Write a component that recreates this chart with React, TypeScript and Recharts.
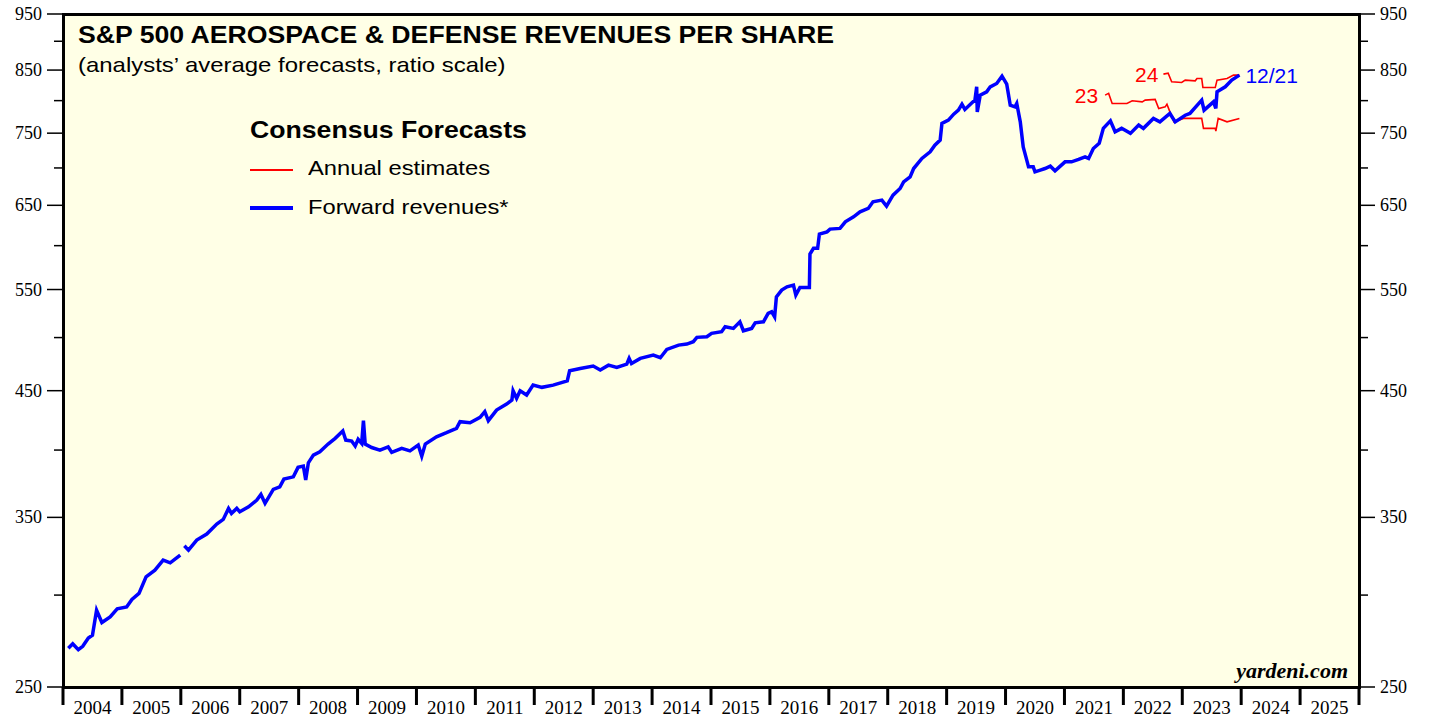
import React from 'react';
import { LineChart, Line, XAxis, YAxis, ReferenceDot } from 'recharts';

// forward revenues per share (weekly), null = gap in the series
const fwdDates = [
  2004.09, 2004.165, 2004.26, 2004.335, 2004.43, 2004.5, 2004.57, 2004.66, 2004.8, 2004.92,
  2005.08, 2005.17, 2005.29, 2005.41, 2005.56, 2005.7, 2005.82, 2005.99, 2006.03, 2006.06,
  2006.13, 2006.27, 2006.44, 2006.61, 2006.72, 2006.81, 2006.86, 2006.95, 2007.0, 2007.15,
  2007.29, 2007.36, 2007.43, 2007.57, 2007.68, 2007.75, 2007.91, 2007.99, 2008.08, 2008.12,
  2008.165, 2008.25, 2008.36, 2008.5, 2008.62, 2008.75, 2008.8, 2008.9, 2008.96, 2009.01,
  2009.07, 2009.1, 2009.13, 2009.24, 2009.38, 2009.52, 2009.58, 2009.75, 2009.89, 2010.03,
  2010.09, 2010.15, 2010.34, 2010.51, 2010.68, 2010.74, 2010.91, 2011.08, 2011.16, 2011.22,
  2011.36, 2011.53, 2011.62, 2011.64, 2011.7, 2011.76, 2011.87, 2011.98, 2012.13, 2012.32,
  2012.56, 2012.6, 2012.78, 2013.0, 2013.12, 2013.26, 2013.4, 2013.57, 2013.61, 2013.65,
  2013.8, 2014.02, 2014.14, 2014.25, 2014.45, 2014.59, 2014.7, 2014.76, 2014.93, 2015.01,
  2015.18, 2015.24, 2015.38, 2015.49, 2015.55, 2015.69, 2015.75, 2015.89, 2015.97, 2016.03,
  2016.08, 2016.11, 2016.2, 2016.29, 2016.4, 2016.44, 2016.51, 2016.67, 2016.68, 2016.74,
  2016.81, 2016.84, 2016.97, 2017.02, 2017.19, 2017.28, 2017.42, 2017.53, 2017.67, 2017.75,
  2017.9, 2017.98, 2018.09, 2018.21, 2018.27, 2018.38, 2018.44, 2018.58, 2018.72, 2018.8,
  2018.89, 2018.92, 2019.03, 2019.12, 2019.2, 2019.26, 2019.31, 2019.43, 2019.48, 2019.51,
  2019.52, 2019.57, 2019.68, 2019.74, 2019.85, 2019.94, 2020.02, 2020.08, 2020.16, 2020.19,
  2020.25, 2020.3, 2020.36, 2020.39, 2020.47, 2020.5, 2020.59, 2020.67, 2020.76, 2020.84,
  2021.01, 2021.12, 2021.24, 2021.35, 2021.41, 2021.49, 2021.59, 2021.66, 2021.78, 2021.86,
  2021.97, 2022.12, 2022.26, 2022.34, 2022.51, 2022.62, 2022.79, 2022.88, 2023.05, 2023.13,
  2023.33, 2023.37, 2023.53, 2023.57, 2023.59, 2023.73, 2023.84, 2023.97,
];
const fwdValues = [
  270.0, 272.4, 269.2, 271.0, 275.5, 277.0, 291.1, 284.1, 287.3, 291.9,
  293.0, 297.4, 301.0, 311.1, 315.2, 321.6, 319.8, 324.8, null, 330.8,
  328.0, 334.6, 338.6, 345.4, 348.6, 356.3, 352.8, 356.3, 353.9, 357.4,
  362.2, 366.3, 359.9, 370.0, 371.9, 377.6, 379.3, 386.5, 387.5, 376.9,
  390.0, 396.0, 398.6, 404.8, 409.4, 415.4, 408.0, 407.2, 403.2, 408.6,
  405.3, 424.0, 404.8, 402.0, 400.0, 402.6, 398.2, 401.4, 399.4, 404.0,
  395.2, 404.8, 410.7, 414.0, 417.6, 423.2, 422.3, 426.8, 431.6, 424.0,
  433.0, 438.2, 441.7, 449.9, 443.2, 449.9, 446.1, 455.0, 453.0, 455.0,
  458.9, 468.1, 470.3, 472.5, 468.8, 473.4, 471.3, 474.4, 479.8, 475.0,
  479.8, 483.0, 480.4, 488.4, 492.6, 493.6, 495.9, 500.2, 500.8, 504.2,
  505.8, 510.9, 509.2, 515.9, 506.8, 509.2, 514.9, 515.9, 524.6, 526.2,
  521.0, 542.1, 549.4, 553.0, 554.8, 544.0, 552.3, 552.3, 590.1, 596.8,
  596.8, 613.9, 616.7, 620.0, 620.9, 629.1, 635.3, 641.6, 646.0, 654.5,
  656.7, 648.9, 663.2, 672.1, 681.0, 687.7, 699.2, 713.3, 722.7, 732.4,
  739.7, 764.6, 769.6, 778.8, 785.0, 794.4, 786.1, 796.5, 800.8, 822.2,
  782.4, 808.8, 814.1, 822.2, 827.7, 839.8, 826.6, 792.8, 790.2, 795.5,
  767.0, 729.9, 710.9, 701.5, 701.5, 694.6, 697.0, 699.2, 702.5, 696.0,
  708.5, 708.5, 711.9, 715.6, 713.3, 727.6, 735.1, 757.2, 768.6, 752.1,
  757.2, 749.7, 762.2, 757.2, 772.3, 767.0, 779.9, 767.0, 777.2, 779.9,
  800.8, 785.0, 798.1, 787.7, 814.1, 822.2, 833.2, 841.5,
];

// 2023 annual estimates
const est23Dates = [
  2021.69, 2021.75, 2021.81, 2022.06, 2022.15, 2022.32, 2022.37, 2022.54, 2022.6, 2022.71,
  2022.74, 2022.79, 2022.86, 2023.02, 2023.33, 2023.36, 2023.56, 2023.57, 2023.61, 2023.76,
  2023.97,
];
const est23Values = [
  808.8, 811.6, 795.5, 795.5, 799.7, 798.1, 800.8, 802.0, 787.7, 790.2,
  794.4, 782.4, 767.0, 772.3, 772.3, 757.2, 757.2, 753.1, 772.3, 767.0,
  772.3,
];

// 2024 annual estimates
const est24Dates = [
  2022.68, 2022.76, 2022.82, 2022.99, 2023.05, 2023.22, 2023.25, 2023.33, 2023.35, 2023.56,
  2023.59, 2023.76, 2023.87, 2023.97,
];
const est24Values = [
  843.2, 844.8, 830.4, 829.4, 833.2, 832.1, 836.0, 836.0, 821.2, 821.2,
  833.2, 836.0, 841.5, 841.5,
];

const yearTicks = [
  2004, 2005, 2006, 2007, 2008, 2009, 2010, 2011, 2012, 2013, 2014,
  2015, 2016, 2017, 2018, 2019, 2020, 2021, 2022, 2023, 2024, 2025, 2026,
];
const yTicks = [250, 300, 350, 400, 450, 500, 550, 600, 650, 700, 750, 800, 850, 900, 950];
const yLabels = [250, 350, 450, 550, 650, 750, 850, 950];

const fwdData = fwdDates.map((t, i) => ({ t, v: fwdValues[i] }));
const est23Data = est23Dates.map((t, i) => ({ t, v: est23Values[i] }));
const est24Data = est24Dates.map((t, i) => ({ t, v: est24Values[i] }));

const W = 1429;
const H = 717;
const PL = 63;
const PR = 1359;
const PT = 14;
const PB = 687;
const halfYear = (PR - PL) / (yearTicks.length - 1) / 2;
const serif = '"Liberation Serif", "Times New Roman", serif';
const sans = '"Liberation Sans", Arial, sans-serif';

const LeftTick = (props: any) => {
  const { x, y, payload } = props;
  const major = yLabels.includes(payload.value);
  return (
    <g>
      <line x1={x - (major ? 16 : 9)} x2={x} y1={y} y2={y} stroke="#000" strokeWidth={1.5} />
      {major && (
        <text x={x - 21} y={y} dy={6} textAnchor="end" fontFamily={serif} fontSize={18} fill="#000">
          {payload.value}
        </text>
      )}
    </g>
  );
};

const RightTick = (props: any) => {
  const { x, y, payload } = props;
  const major = yLabels.includes(payload.value);
  return (
    <g>
      <line x1={x} x2={x + (major ? 16 : 9)} y1={y} y2={y} stroke="#000" strokeWidth={1.5} />
      {major && (
        <text x={x + 21} y={y} dy={6} textAnchor="start" fontFamily={serif} fontSize={18} fill="#000">
          {payload.value}
        </text>
      )}
    </g>
  );
};

const YearTick = (props: any) => {
  const { x, y, payload } = props;
  const last = payload.value === yearTicks[yearTicks.length - 1];
  return (
    <g>
      <line x1={x} x2={x} y1={y} y2={y + 18} stroke="#000" strokeWidth={3} />
      {!last && (
        <text x={x + halfYear} y={y + 27} textAnchor="middle" fontFamily={serif} fontSize={19} fill="#000">
          {payload.value}
        </text>
      )}
    </g>
  );
};

const stretch = (k: number): React.CSSProperties => ({ transform: `scaleX(${k})`, transformOrigin: 'left top' });

export default function App() {
  return (
    <div style={{ position: 'absolute', left: 0, top: 0, width: W, height: H, background: '#fff', overflow: 'hidden' }}>
      <div
        style={{
          position: 'absolute',
          left: PL - 1.5,
          top: PT - 1.5,
          width: PR - PL + 3,
          height: PB - PT + 3,
          boxSizing: 'border-box',
          border: '3px solid #000',
          background: '#ffffe6',
        }}
      />
      <div style={{ position: 'absolute', left: 0, top: 0 }}>
        <LineChart width={W} height={H} data={fwdData} margin={{ top: PT, right: 0, bottom: 0, left: 0 }}>
          <XAxis
            dataKey="t"
            type="number"
            domain={[2004, 2026]}
            ticks={yearTicks}
            interval={0}
            height={H - PB}
            tickSize={0}
            tickMargin={0}
            axisLine={false}
            tickLine={false}
            tick={<YearTick />}
            allowDataOverflow
          />
          <YAxis
            yAxisId="left"
            scale="log"
            domain={[250, 950]}
            ticks={yTicks}
            interval={0}
            width={PL}
            tickSize={0}
            tickMargin={0}
            axisLine={false}
            tickLine={false}
            tick={<LeftTick />}
            allowDataOverflow
          />
          <YAxis
            yAxisId="right"
            orientation="right"
            scale="log"
            domain={[250, 950]}
            ticks={yTicks}
            interval={0}
            width={W - PR}
            tickSize={0}
            tickMargin={0}
            axisLine={false}
            tickLine={false}
            tick={<RightTick />}
            allowDataOverflow
          />
          <Line yAxisId="left" data={est23Data} dataKey="v" stroke="#ff0000" strokeWidth={1.6} dot={false} isAnimationActive={false} />
          <Line yAxisId="left" data={est24Data} dataKey="v" stroke="#ff0000" strokeWidth={1.6} dot={false} isAnimationActive={false} />
          <Line yAxisId="left" data={fwdData} dataKey="v" stroke="#0000ff" strokeWidth={3.5} dot={false} isAnimationActive={false} />
          <ReferenceDot
            yAxisId="left"
            x={est23Dates[0]}
            y={est23Values[0]}
            r={0}
            label={{ value: '23', position: 'left', offset: 7, fill: '#ff0000', fontSize: 21, fontFamily: sans }}
          />
          <ReferenceDot
            yAxisId="left"
            x={est24Dates[0]}
            y={est24Values[0]}
            r={0}
            label={{ value: '24', position: 'left', offset: 5, fill: '#ff0000', fontSize: 21, fontFamily: sans }}
          />
          <ReferenceDot
            yAxisId="left"
            x={fwdDates[fwdDates.length - 1]}
            y={fwdValues[fwdValues.length - 1]}
            r={0}
            label={{ value: '12/21', position: 'right', offset: 6, fill: '#0000ff', fontSize: 21, fontFamily: sans }}
          />
        </LineChart>
      </div>
      <div style={{ position: 'absolute', left: 78, top: 21, fontFamily: sans, fontWeight: 'bold', fontSize: 24, color: '#000', whiteSpace: 'nowrap', ...stretch(1.11) }}>
        S&amp;P 500 AEROSPACE &amp; DEFENSE REVENUES PER SHARE
      </div>
      <div style={{ position: 'absolute', left: 78, top: 53, fontFamily: sans, fontSize: 21, color: '#000', whiteSpace: 'nowrap', ...stretch(1.14) }}>
        (analysts’ average forecasts, ratio scale)
      </div>
      <div style={{ position: 'absolute', left: 250, top: 116, fontFamily: sans, fontWeight: 'bold', fontSize: 24, color: '#000', whiteSpace: 'nowrap', ...stretch(1.11) }}>
        Consensus Forecasts
      </div>
      <div style={{ position: 'absolute', left: 250, top: 169, width: 43, height: 2, background: '#ff0000' }} />
      <div style={{ position: 'absolute', left: 308, top: 156, fontFamily: sans, fontSize: 21, color: '#000', whiteSpace: 'nowrap', ...stretch(1.13) }}>
        Annual estimates
      </div>
      <div style={{ position: 'absolute', left: 250, top: 206, width: 43, height: 3.5, background: '#0000ff' }} />
      <div style={{ position: 'absolute', left: 308, top: 195, fontFamily: sans, fontSize: 21, color: '#000', whiteSpace: 'nowrap', ...stretch(1.13) }}>
        Forward revenues*
      </div>
      <div
        style={{
          position: 'absolute',
          right: W - 1348,
          top: 658,
          fontFamily: serif,
          fontWeight: 'bold',
          fontStyle: 'italic',
          fontSize: 22,
          color: '#000',
          whiteSpace: 'nowrap',
        }}
      >
        yardeni.com
      </div>
    </div>
  );
}
